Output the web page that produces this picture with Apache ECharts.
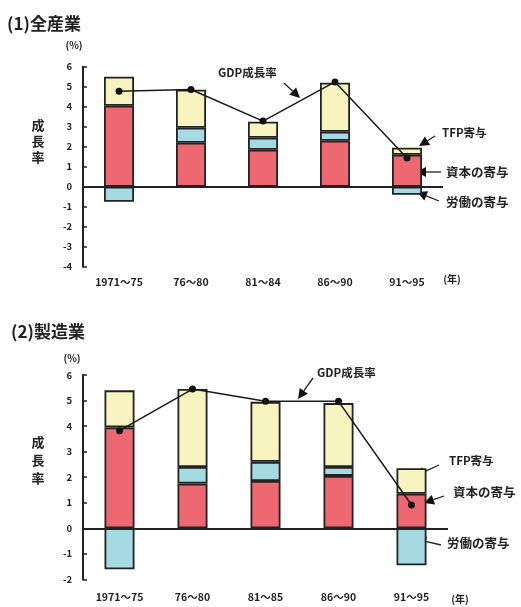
<!DOCTYPE html>
<html>
<head>
<meta charset="utf-8">
<script src="https://cdn.jsdelivr.net/npm/echarts@6/dist/echarts.min.js"></script>
<style>
  html, body { margin: 0; padding: 0; background: #fff; }
  #chart { width: 521px; height: 607px; }
</style>
</head>
<body>
<div id="chart"></div>
<script>
// (1) 全産業 — 成長率の要因分解 (%)
const categoriesAll = ['1971～75', '76～80', '81～84', '86～90', '91～95'];
const capitalAll = [4.05, 2.2, 1.85, 2.3, 1.6];
const laborAll   = [-0.75, 0.75, 0.6, 0.45, -0.4];
const tfpAll     = [1.45, 1.9, 0.8, 2.45, 0.35];
const gdpAll     = [4.77, 4.86, 3.28, 5.24, 1.44];

// (2) 製造業
const categoriesMfg = ['1971～75', '76～80', '81～85', '86～90', '91～95'];
const capitalMfg = [3.95, 1.75, 1.85, 2.05, 1.35];
const laborMfg   = [-1.6, 0.65, 0.75, 0.35, -1.45];
const tfpMfg     = [1.45, 3.05, 2.35, 2.5, 1.0];
const gdpMfg     = [3.82, 5.45, 4.97, 4.97, 0.91];

const yTicksAll = { min: -4, max: 6 };
const yTicksMfg = { min: -2, max: 6 };

const RED = '#EE6871', CYAN = '#A5DAE2', YELLOW = '#F7F4BF';
const INK = '#222';
const FONT = '"Noto Sans CJK JP", sans-serif';

const chart = echarts.init(document.getElementById('chart'), null, { renderer: 'canvas' });

function xAxisCfg(idx, cats, margin) {
  return {
    type: 'category', gridIndex: idx, data: cats,
    axisLine: { show: false }, axisTick: { show: false },
    axisLabel: { margin: margin, color: INK, fontSize: 10.5, fontWeight: 'bold', fontFamily: FONT }
  };
}
function yAxisCfg(idx, range) {
  return {
    type: 'value', gridIndex: idx, min: range.min, max: range.max, interval: 1,
    axisLine: { show: true, lineStyle: { color: INK, width: 2 } },
    axisTick: { show: true, inside: true, length: 4, lineStyle: { color: INK, width: 1.5 } },
    axisLabel: { margin: 11, color: INK, fontSize: 9.5, fontWeight: 'bold', fontFamily: FONT },
    splitLine: { show: false }
  };
}
function barSeries(name, data, color, axis, stack, withZero) {
  const s = {
    name: name, type: 'bar', stack: stack, data: data,
    xAxisIndex: axis, yAxisIndex: axis, barWidth: 30,
    itemStyle: { color: color, borderColor: INK, borderWidth: 1.8 }
  };
  if (withZero) {
    s.markLine = {
      silent: true, symbol: 'none', label: { show: false },
      lineStyle: { color: INK, width: 2, type: 'solid' },
      data: [{ yAxis: 0 }]
    };
  }
  return s;
}
function gdpSeries(data, axis) {
  return {
    name: 'GDP成長率', type: 'line', data: data, z: 5,
    xAxisIndex: axis, yAxisIndex: axis,
    symbol: 'circle', symbolSize: 7,
    lineStyle: { color: '#1a1a1a', width: 1.5 },
    itemStyle: { color: '#111' }
  };
}

// annotation arrow: a line ending in a filled triangular head at (x2, y2)
function arrow(x1, y1, x2, y2) {
  const dx = x2 - x1, dy = y2 - y1;
  const len = Math.hypot(dx, dy), ux = dx / len, uy = dy / len;
  const hl = 10, hw = 5;
  const bx = x2 - ux * hl, by = y2 - uy * hl;
  return {
    type: 'group', silent: true,
    children: [
      { type: 'line', shape: { x1: x1, y1: y1, x2: bx, y2: by }, style: { stroke: INK, lineWidth: 1.3 } },
      { type: 'polygon', shape: { points: [[x2, y2], [bx - uy * hw, by + ux * hw], [bx + uy * hw, by - ux * hw]] },
        style: { fill: '#111' } }
    ]
  };
}
function label(text, x, y, size, weight, align, lineHeight) {
  return {
    type: 'text', silent: true,
    style: {
      text: text, x: x, y: y, fill: INK,
      font: (weight || 'bold') + ' ' + size + 'px ' + FONT,
      align: align || 'left', verticalAlign: 'middle',
      lineHeight: lineHeight || size
    }
  };
}

chart.setOption({
  animation: false,
  backgroundColor: '#fff',
  grid: [
    { left: 83, top: 66.7, width: 360, height: 200 },
    { left: 83, top: 375, width: 365, height: 204.4 }
  ],
  xAxis: [xAxisCfg(0, categoriesAll, 10), xAxisCfg(1, categoriesMfg, 12)],
  yAxis: [yAxisCfg(0, yTicksAll), yAxisCfg(1, yTicksMfg)],
  series: [
    barSeries('資本の寄与', capitalAll, RED, 0, 'all', true),
    barSeries('労働の寄与', laborAll, CYAN, 0, 'all', false),
    barSeries('TFP寄与', tfpAll, YELLOW, 0, 'all', false),
    gdpSeries(gdpAll, 0),
    barSeries('資本の寄与', capitalMfg, RED, 1, 'mfg', true),
    barSeries('労働の寄与', laborMfg, CYAN, 1, 'mfg', false),
    barSeries('TFP寄与', tfpMfg, YELLOW, 1, 'mfg', false),
    gdpSeries(gdpMfg, 1)
  ],
  graphic: [
    // panel (1)
    label('(1)全産業', 7, 24, 17, 'bold'),
    label('(%)', 74, 45, 10, 'bold', 'center'),
    label('成\n長\n率', 38, 141, 13, 'bold', 'center', 16),
    label('(年)', 452, 279, 10, 'bold', 'center'),
    label('GDP成長率', 218, 73, 11.5, 'bold'),
    label('TFP寄与', 442, 133, 11.5, 'bold'),
    label('資本の寄与', 446, 172, 12.5, 'bold'),
    label('労働の寄与', 446, 202, 12.5, 'bold'),
    arrow(284, 83, 300, 98),
    arrow(435, 136, 419, 146),
    arrow(441, 172, 416, 172),
    arrow(439, 201, 417, 192),
    // panel (2)
    label('(2)製造業', 11, 332, 17, 'bold'),
    label('(%)', 72, 358, 10, 'bold', 'center'),
    label('成\n長\n率', 38, 460, 13, 'bold', 'center', 18),
    label('(年)', 460, 599, 10, 'bold', 'center'),
    label('GDP成長率', 317, 373, 11.5, 'bold'),
    label('TFP寄与', 449, 461, 11.5, 'bold'),
    label('資本の寄与', 453, 492, 12.5, 'bold'),
    label('労働の寄与', 447, 543, 12.5, 'bold'),
    arrow(313, 378, 298, 399),
    arrow(439, 465, 415, 476),
    arrow(444, 496, 424, 503),
    arrow(441, 545, 416, 539)
  ]
});
</script>
</body>
</html>
